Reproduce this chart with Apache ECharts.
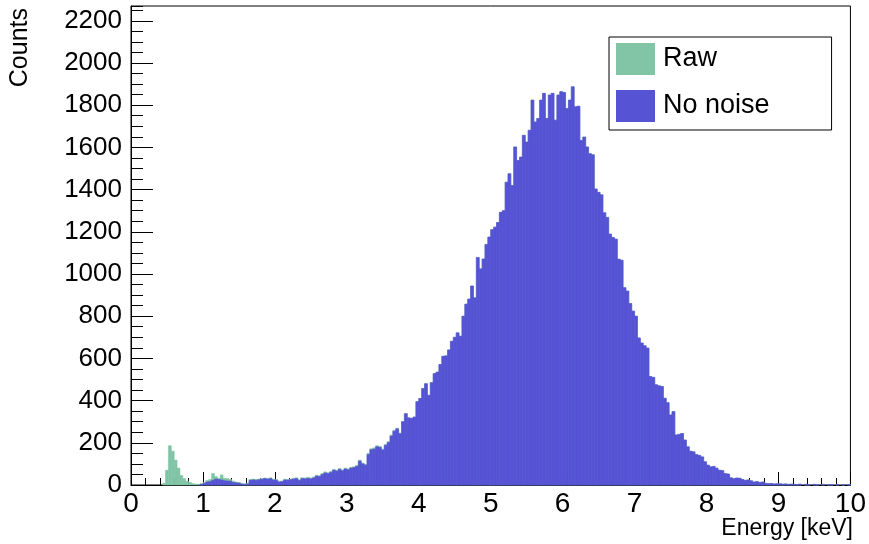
<!DOCTYPE html>
<html>
<head>
<meta charset="utf-8">
<script src="https://cdn.jsdelivr.net/npm/echarts@6/dist/echarts.min.js"></script>
<style>
  html, body { margin: 0; padding: 0; background: #fff; }
  #chart { width: 869px; height: 544px; }
</style>
</head>
<body>
<div id="chart"></div>
<script>
// Histogram binning: 250 bins of 0.04 keV between 0 and 10 keV
const BIN_WIDTH = 0.04;
const ENERGY_MIN = 0;
const ENERGY_MAX = 10;
const COUNTS_MAX = 2270;

const seriesNames = ['Raw', 'No noise'];

// Counts per bin, raw spectrum (includes low-energy noise)
const rawCounts = [
  0, 0, 0, 0, 0, 0, 0, 0, 0, 0,
  0, 8, 70, 186, 160, 118, 80, 45, 30, 18,
  12, 6, 4, 3, 6, 12, 22, 26, 54, 40,
  32, 48, 32, 30, 26, 18, 14, 12, 8, 6,
  8, 26, 28, 26, 28, 31, 33, 31, 34, 27,
  26, 18, 19, 27, 26, 28, 32, 34, 25, 34,
  33, 36, 33, 38, 46, 44, 54, 62, 58, 64,
  74, 70, 78, 71, 80, 76, 84, 86, 93, 118,
  104, 98, 150, 172, 176, 186, 183, 170, 192, 206,
  236, 259, 269, 246, 300, 338, 318, 316, 322, 395,
  410, 457, 480, 425, 485, 528, 535, 571, 610, 612,
  640, 681, 700, 721, 705, 800, 857, 881, 943, 887,
  1078, 1024, 1071, 1140, 1175, 1210, 1222, 1244, 1292, 1300,
  1435, 1475, 1419, 1602, 1538, 1554, 1657, 1625, 1681, 1824,
  1720, 1737, 1824, 1856, 1737, 1848, 1856, 1729, 1848, 1864,
  1860, 1784, 1824, 1887, 1792, 1795, 1633, 1649, 1602, 1570,
  1565, 1403, 1387, 1375, 1290, 1268, 1189, 1173, 1165, 1070,
  1065, 935, 919, 860, 824, 800, 697, 673, 660, 649,
  514, 510, 475, 470, 467, 411, 390, 332, 348, 237,
  240, 244, 213, 181, 160, 157, 144, 140, 133, 110,
  94, 86, 88, 80, 70, 68, 54, 52, 34, 30,
  33, 32, 26, 22, 24, 20, 14, 16, 12, 14,
  8, 6, 7, 5, 6, 6, 4, 5, 3, 4,
  3, 2, 4, 0, 3, 2, 0, 3, 2, 0,
  3, 0, 2, 2, 0, 3, 0, 2, 0, 2
];

// Counts per bin after noise removal
const noNoiseCounts = [
  0, 0, 0, 0, 0, 0, 0, 0, 0, 0,
  0, 0, 0, 0, 0, 0, 0, 0, 0, 0,
  0, 0, 0, 0, 3, 8, 14, 16, 22, 28,
  26, 24, 20, 19, 18, 12, 10, 9, 4, 2,
  5, 22, 24, 22, 25, 27, 30, 28, 30, 24,
  22, 14, 16, 24, 23, 25, 28, 30, 21, 30,
  29, 32, 29, 33, 42, 40, 50, 57, 54, 60,
  70, 66, 74, 67, 76, 72, 80, 82, 88, 113,
  100, 94, 144, 167, 170, 181, 178, 166, 188, 201,
  232, 255, 266, 243, 300, 338, 318, 316, 322, 395,
  410, 457, 480, 425, 485, 528, 535, 571, 610, 612,
  640, 681, 700, 721, 705, 800, 857, 881, 943, 887,
  1078, 1024, 1071, 1140, 1175, 1210, 1222, 1244, 1292, 1300,
  1435, 1475, 1419, 1602, 1538, 1554, 1657, 1625, 1681, 1824,
  1720, 1737, 1824, 1856, 1737, 1848, 1856, 1729, 1848, 1864,
  1860, 1784, 1824, 1887, 1792, 1795, 1633, 1649, 1602, 1570,
  1565, 1403, 1387, 1375, 1290, 1268, 1189, 1173, 1165, 1070,
  1065, 935, 919, 860, 824, 800, 697, 673, 660, 649,
  514, 510, 475, 470, 467, 411, 390, 332, 348, 237,
  240, 244, 213, 181, 160, 157, 144, 140, 133, 110,
  94, 86, 88, 80, 70, 68, 54, 52, 34, 30,
  33, 32, 26, 22, 24, 20, 14, 16, 12, 14,
  8, 6, 7, 5, 6, 6, 4, 5, 3, 4,
  3, 2, 4, 0, 3, 2, 0, 3, 2, 0,
  3, 0, 2, 2, 0, 3, 0, 2, 0, 2
];

const FONT = 'Liberation Sans, Arial, Helvetica, sans-serif';
const RAW_COLOR = '#81c4a6';
const CLEAN_COLOR = '#5753d5';

// [lowEdge, highEdge, count] for each bin
function toBins(counts) {
  return counts.map((c, i) => [ENERGY_MIN + i * BIN_WIDTH, ENERGY_MIN + (i + 1) * BIN_WIDTH, c]);
}

// One filled rectangle per histogram bin; a thin same-colour stroke closes the
// hairline gaps that anti-aliasing leaves between neighbouring bins
function renderBin(params, api) {
  const count = api.value(2);
  if (!count) return null;
  const topLeft = api.coord([api.value(0), count]);
  const bottomRight = api.coord([api.value(1), 0]);
  const color = api.visual('color');
  return {
    type: 'rect',
    shape: {
      x: topLeft[0],
      y: topLeft[1],
      width: bottomRight[0] - topLeft[0],
      height: bottomRight[1] - topLeft[1]
    },
    style: { fill: color, stroke: color, lineWidth: 0.6 }
  };
}

const chart = echarts.init(document.getElementById('chart'), null, { renderer: 'canvas' });

chart.setOption({
  backgroundColor: '#fff',
  animation: false,
  textStyle: { fontFamily: FONT },
  grid: {
    left: 131, right: 16, top: 6, bottom: 59,
    show: true, borderColor: '#000', borderWidth: 1, backgroundColor: 'transparent'
  },
  legend: {
    orient: 'vertical',
    left: 609, top: 37,
    itemWidth: 39, itemHeight: 32, itemGap: 15,
    padding: [6, 62, 8, 7],
    backgroundColor: '#fff', borderColor: '#000', borderWidth: 1,
    selectedMode: false,
    textStyle: { fontSize: 27, color: '#000', fontFamily: FONT, padding: [5, 0, 0, 3] },
    data: [
      { name: seriesNames[0], icon: 'rect' },
      { name: seriesNames[1], icon: 'rect' }
    ]
  },
  xAxis: {
    type: 'value',
    min: ENERGY_MIN, max: ENERGY_MAX, interval: 1,
    axisLine: { lineStyle: { color: '#000', width: 1 } },
    axisTick: { inside: true, length: 13, lineStyle: { color: '#000' } },
    minorTick: { show: true, splitNumber: 5, length: 7, lineStyle: { color: '#000' } },
    axisLabel: { fontSize: 28, color: '#000', margin: 5, fontFamily: FONT },
    splitLine: { show: false }
  },
  yAxis: [
    {
      type: 'value', position: 'left',
      min: 0, max: COUNTS_MAX, interval: 200,
      axisLine: { show: true, lineStyle: { color: '#000', width: 1 } },
      axisTick: { show: true, inside: true, length: 22, lineStyle: { color: '#000' } },
      axisLabel: {
        fontSize: 26, color: '#000', margin: 9, fontFamily: FONT, showMaxLabel: false,
        formatter: v => String(v)
      },
      splitLine: { show: false }
    },
    {
      // minor ticks every 50 counts
      type: 'value', position: 'left',
      min: 0, max: COUNTS_MAX, interval: 50,
      axisLine: { show: false },
      axisTick: { show: true, inside: true, length: 12, lineStyle: { color: '#000' } },
      axisLabel: { show: false },
      splitLine: { show: false }
    }
  ],
  graphic: [
    {
      type: 'text', x: 20, y: 8, rotation: Math.PI / 2,
      style: { text: 'Counts', fontSize: 25, fontFamily: FONT, fill: '#000', align: 'right', verticalAlign: 'middle' }
    },
    {
      type: 'text', x: 853, y: 529,
      style: { text: 'Energy [keV]', fontSize: 23, fontFamily: FONT, fill: '#000', align: 'right', verticalAlign: 'middle' }
    }
  ],
  series: [
    {
      name: seriesNames[0], type: 'custom', renderItem: renderBin,
      xAxisIndex: 0, yAxisIndex: 0,
      itemStyle: { color: RAW_COLOR },
      encode: { x: [0, 1], y: 2 },
      data: toBins(rawCounts)
    },
    {
      name: seriesNames[1], type: 'custom', renderItem: renderBin,
      xAxisIndex: 0, yAxisIndex: 0,
      itemStyle: { color: CLEAN_COLOR },
      encode: { x: [0, 1], y: 2 },
      data: toBins(noNoiseCounts)
    }
  ]
});
</script>
</body>
</html>
